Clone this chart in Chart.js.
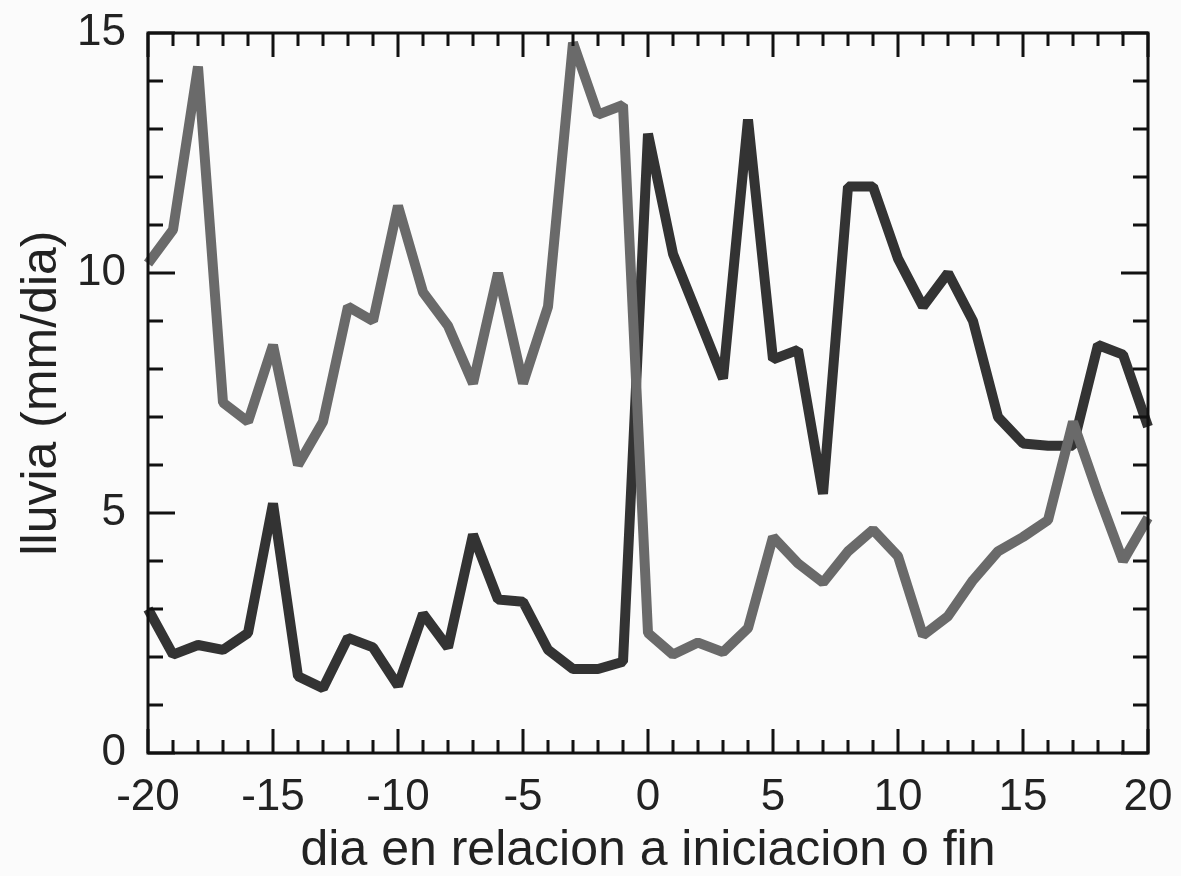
<!DOCTYPE html>
<html>
<head>
<meta charset="utf-8">
<script src="https://cdn.jsdelivr.net/npm/chart.js@4.4.1/dist/chart.umd.min.js"></script>
<style>
  html, body { margin: 0; padding: 0; background: #fbfbfb; }
  #wrap { width: 1181px; height: 876px; position: relative; }
</style>
</head>
<body>
<div id="wrap"><canvas id="c" width="1181" height="876"></canvas></div>
<script>
// Day relative to onset / end
const days = [-20,-19,-18,-17,-16,-15,-14,-13,-12,-11,-10,-9,-8,-7,-6,-5,-4,-3,-2,-1,
               0,1,2,3,4,5,6,7,8,9,10,11,12,13,14,15,16,17,18,19,20];
// Gray series (high before day 0, low after)
const graySeries = [10.2,10.9,14.3,7.3,6.9,8.5,6.0,6.9,9.3,9.0,11.4,9.6,8.9,7.7,10.0,7.7,9.3,14.8,13.3,13.5,
                    2.5,2.05,2.3,2.1,2.6,4.5,3.95,3.55,4.2,4.65,4.1,2.45,2.85,3.6,4.2,4.5,4.85,6.9,5.4,4.0,4.9];
// Dark series (low before day 0, high after)
const darkSeries = [3.0,2.05,2.25,2.15,2.5,5.2,1.6,1.35,2.4,2.2,1.4,2.9,2.2,4.55,3.2,3.15,2.15,1.75,1.75,1.9,
                    12.9,10.4,9.1,7.8,13.2,8.2,8.4,5.4,11.8,11.8,10.3,9.3,10.0,9.0,7.0,6.45,6.4,6.4,8.5,8.3,6.8];
const xTickValues = [-20,-15,-10,-5,0,5,10,15,20];
const yTickValues = [0,5,10,15];
const xTitle = 'dia en relacion a iniciacion o fin';
const yTitle = 'lluvia (mm/dia)';

const FONT = '"Liberation Sans", Arial, sans-serif';

const frameTicks = {
  id: 'frameTicks',
  afterDatasetsDraw(chart) {
    const ctx = chart.ctx, a = chart.chartArea;
    const xs = chart.scales.x, ys = chart.scales.y;
    ctx.save();
    ctx.strokeStyle = '#111';
    ctx.lineWidth = 3;
    ctx.lineCap = 'butt';
    ctx.beginPath();
    for (let v = xs.min; v <= xs.max; v++) {
      const px = Math.round(xs.getPixelForValue(v));
      const len = (v % 5 === 0) ? 24 : 13;
      ctx.moveTo(px, a.bottom); ctx.lineTo(px, a.bottom - len);
      ctx.moveTo(px, a.top); ctx.lineTo(px, a.top + len);
    }
    for (let v = ys.min; v <= ys.max; v++) {
      const py = Math.round(ys.getPixelForValue(v));
      const len = (v % 5 === 0) ? 27 : 15;
      ctx.moveTo(a.left, py); ctx.lineTo(a.left + len, py);
      ctx.moveTo(a.right, py); ctx.lineTo(a.right - len, py);
    }
    ctx.stroke();
    ctx.strokeRect(a.left, a.top, a.right - a.left, a.bottom - a.top);
    ctx.restore();
  }
};

function noPad(s) { s.paddingTop = 0; s.paddingBottom = 0; s.paddingLeft = 0; s.paddingRight = 0; }

new Chart(document.getElementById('c'), {
  type: 'line',
  data: {
    datasets: [
      {
        label: 'gris',
        data: days.map((d, i) => ({ x: d, y: graySeries[i] })),
        borderColor: '#6a6a6a',
        borderWidth: 10,
        pointRadius: 0,
        tension: 0,
        borderJoinStyle: 'bevel'
      },
      {
        label: 'oscuro',
        data: days.map((d, i) => ({ x: d, y: darkSeries[i] })),
        borderColor: '#333333',
        borderWidth: 10,
        pointRadius: 0,
        tension: 0,
        borderJoinStyle: 'bevel'
      }
    ]
  },
  options: {
    responsive: false,
    animation: false,
    clip: false,
    layout: { padding: { top: 33, right: 33, left: 0, bottom: 0 } },
    plugins: { legend: { display: false }, tooltip: { enabled: false }, title: { display: false } },
    scales: {
      x: {
        type: 'linear',
        min: -20, max: 20,
        afterFit(s) { s.height = 123; noPad(s); },
        afterBuildTicks(s) { s.ticks = xTickValues.map(v => ({ value: v })); },
        grid: { display: false, drawTicks: false },
        border: { display: false },
        ticks: { color: '#222', font: { family: FONT, size: 44 }, padding: 18, maxRotation: 0, autoSkip: false },
        title: { display: true, text: xTitle, color: '#222', font: { family: FONT, size: 50, lineHeight: 1 }, padding: { top: 0, bottom: 0 } }
      },
      y: {
        type: 'linear',
        min: 0, max: 15,
        afterFit(s) { s.width = 148; noPad(s); },
        afterBuildTicks(s) { s.ticks = yTickValues.map(v => ({ value: v })); },
        grid: { display: false, drawTicks: false },
        border: { display: false },
        ticks: { color: '#222', font: { family: FONT, size: 44 }, padding: 22 },
        title: { display: true, text: yTitle, color: '#222', font: { family: FONT, size: 50, lineHeight: 1 }, padding: { top: 17, bottom: 0 } }
      }
    }
  },
  plugins: [frameTicks]
});
</script>
</body>
</html>
